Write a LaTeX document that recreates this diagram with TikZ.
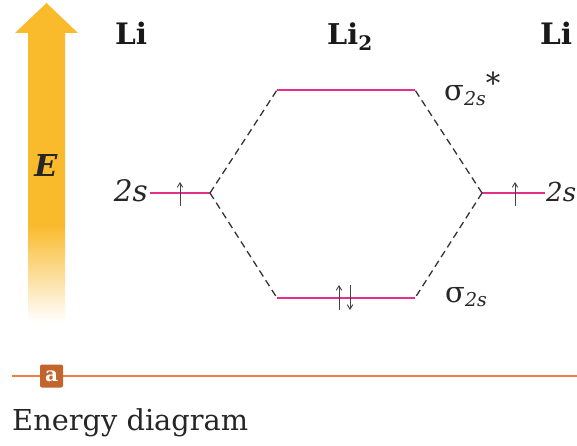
\documentclass[tikz,border=0pt]{standalone}
\usepackage{graphicx}
\usepackage{fontspec}
\setmainfont{DejaVu Serif}
\usetikzlibrary{arrows.meta}
\definecolor{lvl}{HTML}{E62E8B}
\definecolor{eyel}{HTML}{F9BA2C}
\definecolor{rule}{HTML}{F07A48}
\definecolor{tagbox}{HTML}{C2642C}
\definecolor{dashc}{HTML}{333333}
\definecolor{spinc}{HTML}{444444}
\newcommand{\sub}[1]{\raisebox{-0.35ex}{\scriptsize #1}}
\newcommand{\subf}[2]{\raisebox{-0.3ex}{\fontsize{#1}{#1}\selectfont #2}}
\newcommand{\fitw}[2]{\resizebox{#1pt}{!}{#2}}
\tikzset{
  level/.style={draw=lvl, line width=2.2pt},
  corr/.style={draw=dashc, line width=1.3pt, dash pattern=on 7pt off 4.5pt},
  spin/.style={draw=spinc, line width=0.9pt, -{Straight Barb[length=4.5pt,width=5.5pt]}},
  lbl/.style={inner sep=0pt, anchor=base, font=\normalsize, text=black!85},
  hdr/.style={inner sep=0pt, anchor=base, font=\bfseries, text=black!90},
}
\begin{document}
\begin{tikzpicture}[x=1pt,y=-1pt]
\useasboundingbox (0,0) rectangle (577,446);
% energy arrow
\fill[eyel] (15,33) -- (46.5,3) -- (78,33) -- (65,33) -- (65,225) -- (28,225) -- (28,33) -- cycle;
\shade[top color=eyel, bottom color=white] (28,224.5) rectangle (65,322);
\node[lbl, font=\bfseries\itshape] (E) at (46,177) {\fitw{23}{E}};
% headers
\node[hdr, anchor=base west] (liL) at (115,45) {\fitw{32}{Li}};
\node[hdr, anchor=base west] (li2) at (327,45) {\fitw{45}{Li\sub{2}}};
\node[hdr, anchor=base west] (liR) at (540,45) {\fitw{32}{Li}};
% levels
\coordinate (aL) at (150,193); \coordinate (bL) at (210,193);
\coordinate (aR) at (482,193); \coordinate (bR) at (545,193);
\coordinate (s1) at (277,90); \coordinate (s2) at (415,90);
\coordinate (p1) at (277,298); \coordinate (p2) at (415,298);
\draw[level] (aL) -- (bL);
\draw[level] (aR) -- (bR);
\draw[level] (s1) -- (s2);
\draw[level] (p1) -- (p2);
% correlation lines
\draw[corr] (bL) -- (s1);
\draw[corr] (bL) -- (p1);
\draw[corr] (aR) -- (s2);
\draw[corr] (aR) -- (p2);
% spins
\draw[spin] (180,206) -- (180,182);
\draw[spin] (515,206) -- (515,182);
\draw[spin] (339,310) -- (339,285);
\draw[spin] (350,285) -- (350,310);
% labels
\node[lbl, anchor=base east] (t2sL) at (148,201) {\fitw{34}{\textit{2s}}};
\node[lbl, anchor=base west] (t2sR) at (546,201) {\fitw{30}{\textit{2s}}};
\node[lbl, anchor=base west, font=\fontsize{29}{29}\selectfont] (tsig1) at (444,101) {σ\subf{19}{\textit{2s}}\raisebox{0.5ex}{*}};
\node[lbl, anchor=base west, font=\fontsize{29}{29}\selectfont] (tsig2) at (445,302) {σ\subf{19}{\textit{2s}}};
% bottom rule
\coordinate (r0) at (12,376); \coordinate (r1) at (577,376);
\draw[rule, line width=1.6pt] (r0) -- (r1);
\node[fill=tagbox, text=white, rounded corners=2pt, minimum width=23pt, minimum height=23pt, inner sep=0pt, font=\bfseries] (tag) at (51.5,376) {\fitw{13}{a}};
\node[lbl, anchor=base west] (cap) at (12,430) {\fitw{236}{Energy diagram}};
\end{tikzpicture}
\end{document}
